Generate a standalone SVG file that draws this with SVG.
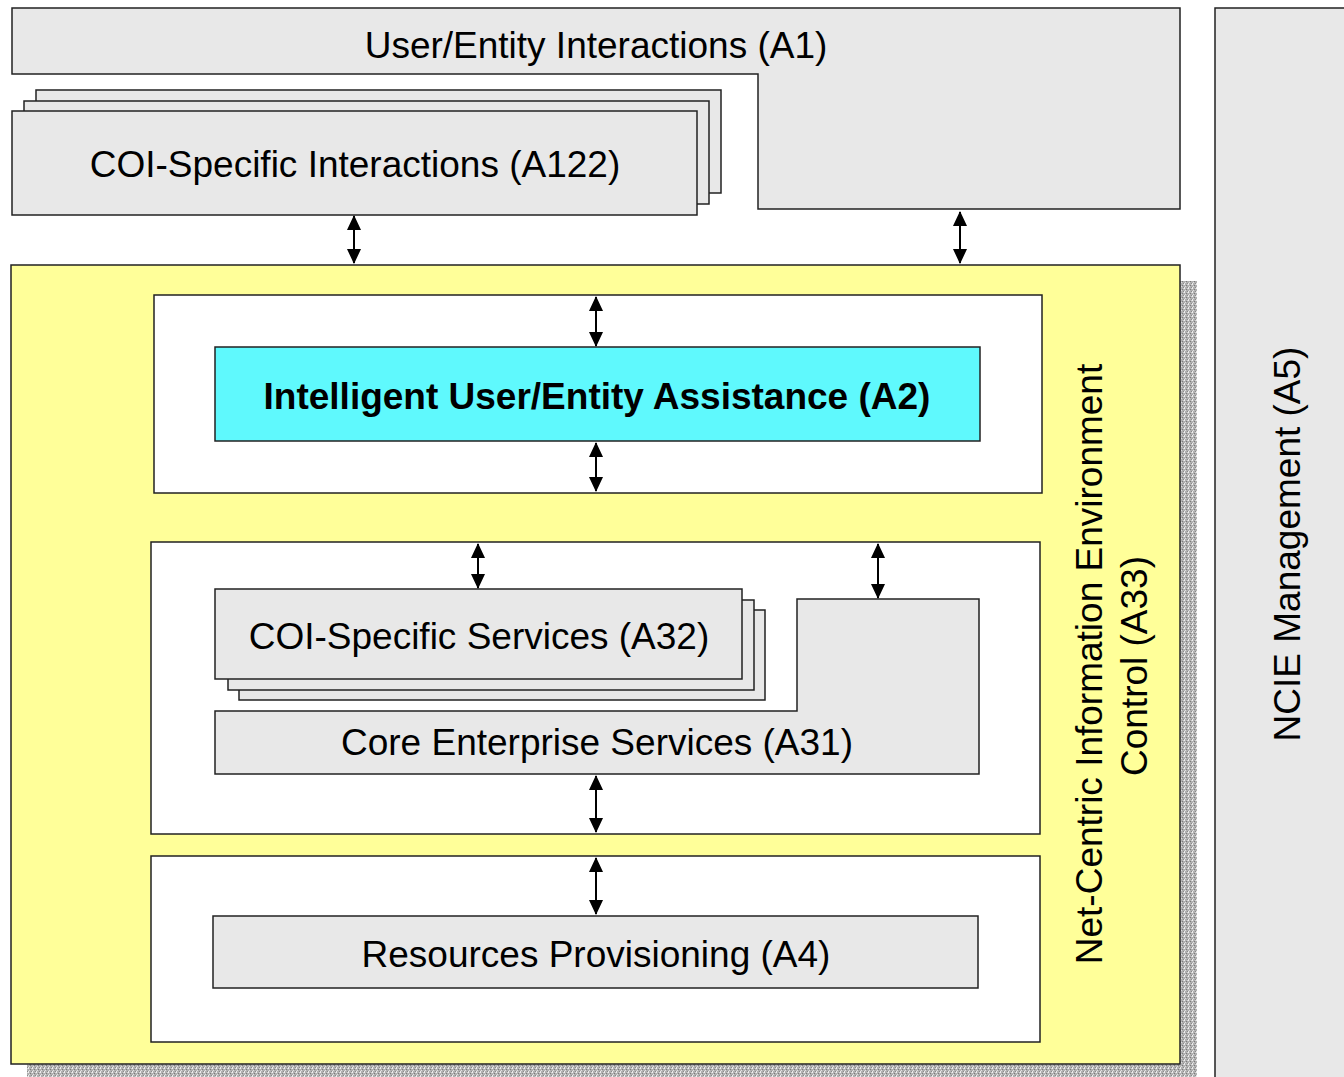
<svg xmlns="http://www.w3.org/2000/svg" width="1344" height="1077" viewBox="0 0 1344 1077">
<style>
.g{fill:#e8e8e8;stroke:#222;stroke-width:1.5}
.w{fill:#fff;stroke:#222;stroke-width:1.5}
.t{font-family:"Liberation Sans",Arial,sans-serif;font-size:37px;fill:#000;text-anchor:middle}
.b{font-weight:bold}
.c{stroke:#000;stroke-width:2;fill:none;marker-start:url(#ah);marker-end:url(#ah)}
</style>
<defs>
<marker id="ah" viewBox="0 0 15 14" refX="14" refY="7" markerWidth="15" markerHeight="14" markerUnits="userSpaceOnUse" orient="auto-start-reverse">
<path d="M0,0 L15,7 L0,14 Z" fill="#000"/>
</marker>
<pattern id="noise" width="4" height="4" patternUnits="userSpaceOnUse">
<rect width="4" height="4" fill="#b0b0b0"/>
<rect x="0" y="0" width="1" height="1" fill="#f0f0f0"/>
<rect x="2" y="1" width="1" height="1" fill="#7a7a7a"/>
<rect x="1" y="2" width="1" height="1" fill="#e0e0e0"/>
<rect x="3" y="3" width="1" height="1" fill="#8a8a8a"/>
<rect x="3" y="0" width="1" height="1" fill="#d0d0d0"/>
<rect x="0" y="3" width="1" height="1" fill="#e8e8e8"/>
</pattern>
</defs>

<g id="A5">
<rect class="g" x="1215" y="8" width="140" height="1080"/>
<text class="t" transform="translate(1300,544) rotate(-90)">NCIE Management (A5)</text>
</g>

<g id="A1">
<polygon class="g" points="12,8 1180,8 1180,209 758,209 758,74 12,74"/>
<text class="t" x="596" y="58">User/Entity Interactions (A1)</text>
</g>

<g id="A122">
<rect class="g" x="36" y="90" width="685" height="103"/>
<rect class="g" x="24" y="101" width="685" height="103"/>
<rect class="g" x="12" y="111" width="685" height="104"/>
<text class="t" x="355" y="177">COI-Specific Interactions (A122)</text>
</g>

<g id="A33">
<rect x="27" y="281" width="1170" height="800" fill="url(#noise)"/>
<rect x="11" y="265" width="1169" height="799" fill="#ffff99" stroke="#222" stroke-width="1.5"/>
<text class="t" transform="translate(1102,664) rotate(-90)">Net-Centric Information Environment</text>
<text class="t" transform="translate(1147,666) rotate(-90)">Control (A33)</text>
</g>

<g id="A2-frame">
<rect class="w" x="154" y="295" width="888" height="198"/>
</g>
<g id="A2">
<rect x="215" y="347" width="765" height="94" fill="#5ff9fd" stroke="#222" stroke-width="1.5"/>
<text class="t b" x="597" y="409">Intelligent User/Entity Assistance (A2)</text>
</g>

<g id="A3-frame">
<rect class="w" x="151" y="542" width="889" height="292"/>
</g>
<g id="A31">
<polygon class="g" points="215,711 797,711 797,599 979,599 979,774 215,774"/>
<text class="t" x="597" y="755">Core Enterprise Services (A31)</text>
</g>
<g id="A32">
<rect class="g" x="239" y="610" width="526" height="90"/>
<rect class="g" x="228" y="600" width="526" height="90"/>
<rect class="g" x="215" y="589" width="527" height="90"/>
<text class="t" x="479" y="649">COI-Specific Services (A32)</text>
</g>

<g id="A4-frame">
<rect class="w" x="151" y="856" width="889" height="186"/>
</g>
<g id="A4">
<rect class="g" x="213" y="916" width="765" height="72"/>
<text class="t" x="596" y="967">Resources Provisioning (A4)</text>
</g>

<g id="connectors">
<line class="c" x1="354" y1="216" x2="354" y2="263"/>
<line class="c" x1="960" y1="212" x2="960" y2="263"/>
<line class="c" x1="596" y1="297" x2="596" y2="346"/>
<line class="c" x1="596" y1="443" x2="596" y2="491"/>
<line class="c" x1="478" y1="544" x2="478" y2="588"/>
<line class="c" x1="878" y1="544" x2="878" y2="598"/>
<line class="c" x1="596" y1="776" x2="596" y2="832"/>
<line class="c" x1="596" y1="858" x2="596" y2="914"/>
</g>
</svg>
